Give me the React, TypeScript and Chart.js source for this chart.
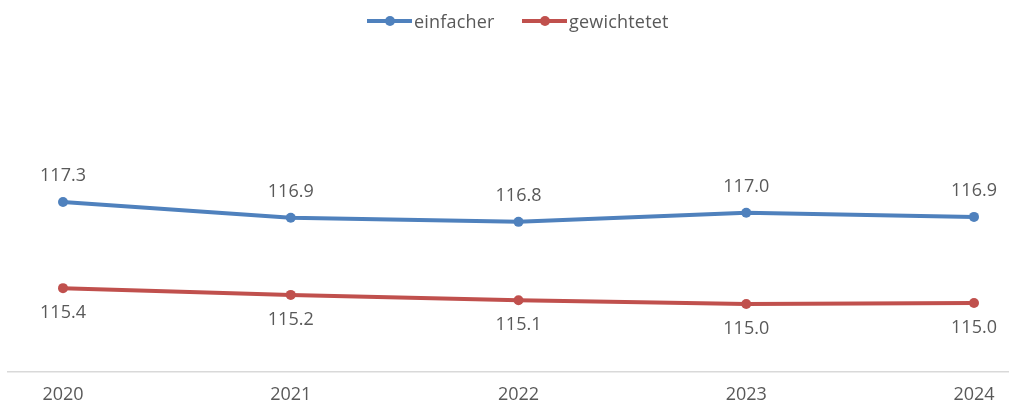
import React, { useEffect, useRef } from "react";
import { Chart, registerables } from "chart.js";

Chart.register(...registerables);

const years: string[] = ["2020", "2021", "2022", "2023", "2024"];
const einfacher: number[] = [117.27, 116.92, 116.83, 117.03, 116.94];
const gewichtetet: number[] = [115.36, 115.21, 115.09, 115.01, 115.03];
const seriesNames: string[] = ["einfacher", "gewichtetet"];
const seriesColors: string[] = ["#4F81BD", "#C0504D"];

const FONT = "'Open Sans', 'Noto Sans', sans-serif";
const TEXT = "#595959";

const labelPlugin = {
  id: "valueLabels",
  afterDatasetsDraw(chart: any) {
    const ctx = chart.ctx;
    ctx.save();
    ctx.font = `18px ${FONT}`;
    ctx.fillStyle = TEXT;
    ctx.textAlign = "center";
    ctx.textBaseline = "middle";
    chart.data.datasets.forEach((ds: any, di: number) => {
      const meta = chart.getDatasetMeta(di);
      meta.data.forEach((pt: any, i: number) => {
        const v = (ds.data[i] as any).y as number;
        const dy = di === 0 ? -26 : 25;
        ctx.fillText(v.toFixed(1), pt.x, pt.y + dy);
      });
    });
    ctx.restore();
  },
};

export default function App() {
  const ref = useRef<HTMLCanvasElement | null>(null);

  useEffect(() => {
    if (!ref.current) return;
    const mk = (arr: number[]) => arr.map((y, i) => ({ x: i, y }));
    const chart = new Chart(ref.current, {
      type: "line",
      data: {
        datasets: [
          {
            label: seriesNames[0],
            data: mk(einfacher),
            borderColor: seriesColors[0],
            backgroundColor: seriesColors[0],
            borderWidth: 4,
            pointRadius: 5,
            pointBorderWidth: 0,
            pointBackgroundColor: seriesColors[0],
            tension: 0,
          },
          {
            label: seriesNames[1],
            data: mk(gewichtetet),
            borderColor: seriesColors[1],
            backgroundColor: seriesColors[1],
            borderWidth: 4,
            pointRadius: 5,
            pointBorderWidth: 0,
            pointBackgroundColor: seriesColors[1],
            tension: 0,
          },
        ],
      },
      options: {
        responsive: false,
        animation: false,
        layout: { autoPadding: false, padding: { left: 8, right: 0, top: 124, bottom: 0 } },
        plugins: {
          legend: { display: false },
          tooltip: { enabled: false },
          title: { display: false },
        },
        scales: {
          x: {
            type: "linear",
            min: -0.2415,
            max: 4.1537,
            grid: { display: false, drawTicks: false },
            border: { display: true, color: "#D9D9D9", width: 1.5 },
            afterFit: (scale: any) => {
              scale.height = 31;
              scale.paddingLeft = 0;
              scale.paddingRight = 0;
            },
            afterBuildTicks: (scale: any) => {
              scale.ticks = years.map((_, i) => ({ value: i }));
            },
            ticks: {
              autoSkip: false,
              maxRotation: 0,
              padding: 12,
              color: TEXT,
              font: { family: FONT, size: 18 },
              callback: (v: any) => years[v as number] ?? "",
            },
          },
          y: {
            display: false,
            min: 113.5,
            max: 119,
          },
        },
      },
      plugins: [labelPlugin],
    });
    return () => chart.destroy();
  }, []);

  const legendItem = (left: number, color: string, text: string) => (
    <div
      style={{
        position: "absolute",
        left,
        top: 9,
        height: 24,
        display: "flex",
        alignItems: "center",
      }}
    >
      <div style={{ position: "relative", width: 45, height: 4, background: color }}>
        <div
          style={{
            position: "absolute",
            left: 18,
            top: -3,
            width: 10,
            height: 10,
            borderRadius: 5,
            background: color,
          }}
        />
      </div>
      <span
        style={{
          marginLeft: 2,
          fontFamily: FONT,
          fontSize: 18,
          color: TEXT,
          lineHeight: "24px",
          whiteSpace: "nowrap",
          letterSpacing: "0.2px",
        }}
      >
        {text}
      </span>
    </div>
  );

  return (
    <div style={{ position: "fixed", left: 0, top: 0, width: 1009, height: 403, background: "#fff" }}>
      <canvas ref={ref} width={1009} height={403} style={{ position: "absolute", left: 0, top: 0 }} />
      {legendItem(367, seriesColors[0], seriesNames[0])}
      {legendItem(522, seriesColors[1], seriesNames[1])}
    </div>
  );
}
